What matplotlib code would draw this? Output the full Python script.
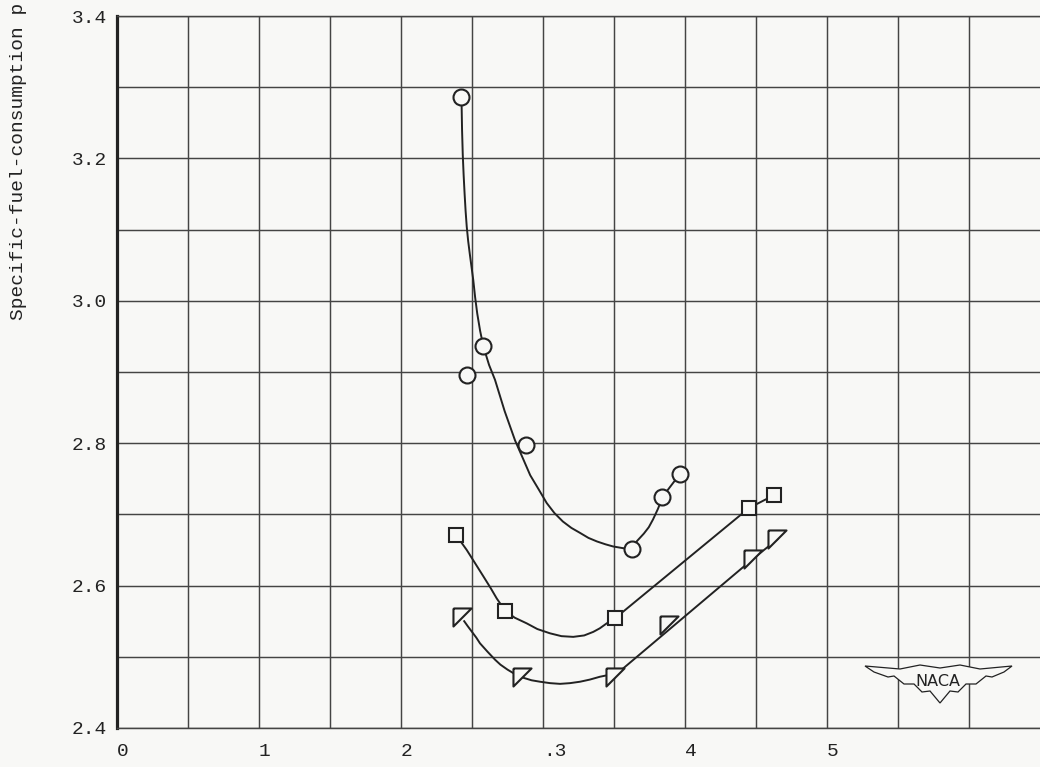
import matplotlib
matplotlib.use('Agg')
import matplotlib.pyplot as plt
from matplotlib.patches import Polygon

# test points
circle_x = [2.42, 2.465, 2.58, 2.88, 3.63, 3.84, 3.965]
circle_y = [3.286, 2.896, 2.936, 2.797, 2.651, 2.725, 2.757]

square_x = [2.39, 2.73, 3.51, 4.45, 4.63]
square_y = [2.671, 2.565, 2.554, 2.709, 2.727]

tri_x = [2.43, 2.85, 3.51, 3.89, 4.48, 4.65]
tri_y = [2.556, 2.471, 2.472, 2.545, 2.638, 2.665]

# faired curves, traced by eye
circle_fair_x = [2.427, 2.430, 2.435, 2.441, 2.448, 2.455, 2.463, 2.473, 2.485, 2.497, 2.509,
                 2.522, 2.537, 2.557, 2.580, 2.620, 2.662, 2.730, 2.803, 2.860, 2.910, 2.970,
                 3.026, 3.080, 3.140, 3.200, 3.261, 3.320, 3.380, 3.440, 3.493, 3.580]
circle_fair_y = [3.273, 3.240, 3.205, 3.177, 3.150, 3.126, 3.104, 3.084, 3.065, 3.047, 3.029,
                 3.005, 2.982, 2.958, 2.936, 2.910, 2.889, 2.845, 2.804, 2.778, 2.755, 2.735,
                 2.716, 2.702, 2.690, 2.681, 2.674, 2.667, 2.662, 2.658, 2.655, 2.652]
circle_tail_x = [3.650, 3.710, 3.745, 3.775, 3.810, 3.843, 3.965]
circle_tail_y = [2.660, 2.673, 2.682, 2.693, 2.708, 2.725, 2.757]

square_fair_x = [2.420, 2.463, 2.520, 2.580, 2.630, 2.674, 2.732, 2.800, 2.885, 2.960, 3.049,
                 3.130, 3.213, 3.290, 3.354, 3.400, 3.449, 3.507, 4.451, 4.627]
square_fair_y = [2.662, 2.650, 2.632, 2.613, 2.597, 2.582, 2.565, 2.555, 2.547, 2.539, 2.533,
                 2.529, 2.528, 2.530, 2.535, 2.540, 2.547, 2.554, 2.709, 2.727]

tri_fair_x = [2.445, 2.470, 2.500, 2.530, 2.556, 2.610, 2.662, 2.700, 2.750, 2.800, 2.854,
              2.920, 2.979, 3.050, 3.120, 3.190, 3.261, 3.330, 3.401, 3.450, 3.507, 4.481, 4.650]
tri_fair_y = [2.550, 2.543, 2.535, 2.527, 2.519, 2.507, 2.496, 2.489, 2.482, 2.476, 2.471,
              2.467, 2.465, 2.463, 2.462, 2.463, 2.465, 2.468, 2.472, 2.474, 2.474, 2.638, 2.665]

xtick_pos = [0, 1, 2, 3, 4, 5]
xtick_lab = ['0', '1', '2', '.3', '4', '5']
ytick_pos = [2.4, 2.6, 2.8, 3.0, 3.2, 3.4]
ytick_lab = ['2.4', '2.6', '2.8', '3.0', '3.2', '3.4']

BG = '#f8f8f6'
INK = '#222222'
GRID = '#444444'
MONO = ['Liberation Mono', 'DejaVu Sans Mono']

fig = plt.figure(figsize=(10.4, 7.67), dpi=100, facecolor=BG)
ax = fig.add_axes([117 / 1040, 1 - 728 / 767, 1 - 117 / 1040, (728 - 16) / 767])
ax.set_facecolor(BG)
ax.set_xlim(0, 6.5)
ax.set_ylim(2.4, 3.4)

ax.set_xticks(xtick_pos)
ax.set_xticklabels(xtick_lab, family=MONO, fontsize=14, ha='left', color=INK)
ax.set_xticks([0.5, 1.5, 2.5, 3.5, 4.5, 5.5, 6.0], minor=True)
ax.set_yticks(ytick_pos)
ax.set_yticklabels(ytick_lab, family=MONO, fontsize=14, color=INK)
ax.set_yticks([2.5, 2.7, 2.9, 3.1, 3.3], minor=True)
ax.tick_params(which='both', length=0)
ax.tick_params(axis='x', pad=11)
ax.tick_params(axis='y', pad=7)
ax.grid(True, which='both', color=GRID, linewidth=1.05)
ax.set_axisbelow(True)

ax.spines['right'].set_visible(False)
ax.spines['left'].set_linewidth(2.3)
ax.spines['left'].set_color(INK)
ax.spines['top'].set_linewidth(1.05)
ax.spines['top'].set_color(GRID)
ax.spines['bottom'].set_linewidth(1.05)
ax.spines['bottom'].set_color(GRID)

lw = 1.4
ax.plot(circle_fair_x, circle_fair_y, color=INK, lw=lw, zorder=3)
ax.plot(circle_tail_x, circle_tail_y, color=INK, lw=lw, zorder=3)
ax.plot(square_fair_x, square_fair_y, color=INK, lw=lw, zorder=3)
ax.plot(tri_fair_x, tri_fair_y, color=INK, lw=lw, zorder=3)

ax.plot(circle_x, circle_y, 'o', ms=11.5, mfc=BG, mec=INK, mew=1.5, zorder=4)
ax.plot(square_x, square_y, 's', ms=10.5, mfc=BG, mec=INK, mew=1.5, zorder=4)
flag = [(-1, 1), (1, 1), (-1, -1), (-1, 1)]
ax.plot(tri_x, tri_y, ls='none', marker=flag, ms=13, mfc=BG, mec=INK, mew=1.5, zorder=4)

fig.text(19 / 1040, 1 - 320 / 767, 'Specific-fuel-consumption p',
         rotation=90, ha='center', va='bottom', family=MONO, fontsize=14, color=INK)

# NACA wings
wing_px = [(865, 666), (900, 669), (920, 665), (940, 668), (960, 665), (980, 669), (1012, 666),
           (1004, 672), (992, 677), (986, 676), (976, 684), (966, 684), (958, 692), (950, 691),
           (940, 703), (930, 691), (922, 692), (914, 684), (904, 684), (894, 676), (888, 677),
           (874, 672)]
wing = Polygon([(x / 1040, 1 - y / 767) for x, y in wing_px], closed=True,
               transform=fig.transFigure, facecolor=BG, edgecolor=INK, lw=0.9, zorder=5)
fig.patches.append(wing)
fig.text(938 / 1040, 1 - 682 / 767, 'NACA', ha='center', va='center', fontsize=11.5,
         family='DejaVu Sans', color=INK, zorder=6)

fig.savefig('out.png', dpi=100, facecolor=BG)
